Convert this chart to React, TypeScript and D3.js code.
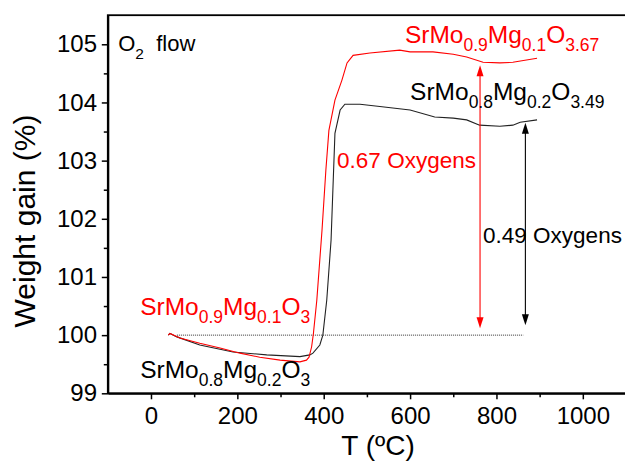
import React, { useEffect, useRef } from 'react';
import * as d3 from 'd3';

// TGA curves: temperature (ºC) vs weight gain (%)
const mg02Temp = [40, 44, 60, 113, 190, 268, 345, 368, 375, 391, 398, 407, 417, 426, 438, 449, 484, 530, 600, 657, 700, 731, 761, 808, 838, 855, 894];
const mg02Weight = [100.0, 100.03, 99.97, 99.83, 99.71, 99.66, 99.63, 99.66, 99.69, 99.83, 100.0, 100.6, 101.63, 103.47, 103.87, 103.97, 103.97, 103.93, 103.87, 103.75, 103.73, 103.7, 103.61, 103.59, 103.61, 103.66, 103.7];

const mg01Temp = [40, 44, 67, 113, 160, 206, 252, 299, 345, 360, 366, 372, 376, 384, 396, 405, 412, 426, 442, 454, 468, 507, 576, 600, 653, 700, 731, 769, 808, 838, 894];
const mg01Weight = [100.0, 100.03, 99.95, 99.86, 99.78, 99.69, 99.62, 99.57, 99.54, 99.57, 99.62, 99.8, 100.02, 100.6, 101.8, 102.84, 103.52, 104.04, 104.38, 104.68, 104.81, 104.85, 104.9, 104.87, 104.87, 104.83, 104.78, 104.69, 104.68, 104.69, 104.76];

const xMajor = [0, 200, 400, 600, 800, 1000];
const xMinor = [100, 300, 500, 700, 900];
const yMajor = [99, 100, 101, 102, 103, 104, 105];
const yMinor = [99.5, 100.5, 101.5, 102.5, 103.5, 104.5];

// reference line and the two arrows
const baseLine = { from: 60, to: 862, weight: 100 };
const arrowTemp = [762, 867];
const arrowLow = [100.12, 100.17];
const arrowHigh = [104.64, 103.65];
const arrowColors = ['#ff0000', '#000000'];

// formula labels: [text, isSubscript]
type Part = [string, boolean];
const labels: { parts: Part[]; t: number; w: number; color: string }[] = [
  { parts: [['SrMo', false], ['0.9', true], ['Mg', false], ['0.1', true], ['O', false], ['3.67', true]], t: 588, w: 105.03, color: '#ff0000' },
  { parts: [['SrMo', false], ['0.8', true], ['Mg', false], ['0.2', true], ['O', false], ['3.49', true]], t: 600, w: 104.04, color: '#000000' },
  { parts: [['SrMo', false], ['0.9', true], ['Mg', false], ['0.1', true], ['O', false], ['3', true]], t: -25, w: 100.34, color: '#ff0000' },
  { parts: [['SrMo', false], ['0.8', true], ['Mg', false], ['0.2', true], ['O', false], ['3', true]], t: -25, w: 99.26, color: '#000000' },
];

const FONT = "Arial, 'Liberation Sans', sans-serif";

const App: React.FC = () => {
  const svgRef = useRef<SVGSVGElement>(null);

  useEffect(() => {
    if (!svgRef.current) return;
    const svg = d3.select(svgRef.current);
    svg.selectAll('*').remove();

    const x = d3.scaleLinear().domain([-100, 1100]).range([107.8, 626]);
    const y = d3.scaleLinear().domain([99, 105.5]).range([393.3, 15.2]);

    const g = svg.append('g');

    // frame (top/right)
    g.append('rect')
      .attr('x', x(-100)).attr('y', y(105.5))
      .attr('width', x(1100) - x(-100)).attr('height', y(99) - y(105.5))
      .attr('fill', 'none').attr('stroke', '#000').attr('stroke-width', 1.8);

    // minor ticks
    g.append('g')
      .attr('transform', `translate(0,${y(99)})`)
      .call(d3.axisBottom(x).tickValues(xMinor).tickSize(4).tickFormat(() => ''))
      .call(s => s.select('.domain').remove())
      .selectAll('line').attr('stroke-width', 1.5);
    g.append('g')
      .attr('transform', `translate(${x(-100)},0)`)
      .call(d3.axisLeft(y).tickValues(yMinor).tickSize(4).tickFormat(() => ''))
      .call(s => s.select('.domain').remove())
      .selectAll('line').attr('stroke-width', 1.5);

    // major axes
    const xAxis = g.append('g')
      .attr('transform', `translate(0,${y(99)})`)
      .call(d3.axisBottom(x).tickValues(xMajor).tickSize(6).tickSizeOuter(0).tickPadding(7.5).tickFormat(d3.format('d')));
    const yAxis = g.append('g')
      .attr('transform', `translate(${x(-100)},0)`)
      .call(d3.axisLeft(y).tickValues(yMajor).tickSize(6).tickSizeOuter(0).tickPadding(4.8).tickFormat(d3.format('d')));
    [xAxis, yAxis].forEach(a => {
      a.attr('font-family', FONT).attr('font-size', 24);
      a.select('.domain').attr('stroke-width', 2);
      a.selectAll('.tick line').attr('stroke-width', 1.5);
      a.selectAll('.tick text').attr('fill', '#000');
    });

    // dotted baseline
    g.append('line')
      .attr('x1', x(baseLine.from)).attr('x2', x(baseLine.to))
      .attr('y1', y(baseLine.weight)).attr('y2', y(baseLine.weight))
      .attr('stroke', '#333').attr('stroke-width', 1).attr('stroke-dasharray', '1,1');

    const line = d3.line<[number, number]>().x(d => x(d[0])).y(d => y(d[1]));

    g.append('path')
      .datum(mg02Temp.map((t, i) => [t, mg02Weight[i]] as [number, number]))
      .attr('d', line).attr('fill', 'none').attr('stroke', '#222').attr('stroke-width', 1.1);
    g.append('path')
      .datum(mg01Temp.map((t, i) => [t, mg01Weight[i]] as [number, number]))
      .attr('d', line).attr('fill', 'none').attr('stroke', '#ff0000').attr('stroke-width', 1.1);

    // double arrows
    arrowTemp.forEach((t, i) => {
      const ax = x(t);
      const lo = y(arrowLow[i]);
      const hi = y(arrowHigh[i]);
      const c = arrowColors[i];
      g.append('line').attr('x1', ax).attr('x2', ax).attr('y1', hi + 6).attr('y2', lo - 6)
        .attr('stroke', c).attr('stroke-width', 1.1);
      g.append('path').attr('d', `M${ax},${hi} L${ax - 3.5},${hi + 11} L${ax + 3.5},${hi + 11} Z`).attr('fill', c);
      g.append('path').attr('d', `M${ax},${lo} L${ax - 3.5},${lo - 11} L${ax + 3.5},${lo - 11} Z`).attr('fill', c);
    });

    // formula labels
    labels.forEach(l => {
      const txt = g.append('text')
        .attr('x', x(l.t)).attr('y', y(l.w))
        .attr('font-family', FONT).attr('fill', l.color);
      let sub = false;
      l.parts.forEach(([s, isSub]) => {
        const dy = isSub === sub ? 0 : isSub ? 8 : -8;
        txt.append('tspan')
          .attr('dy', dy)
          .attr('font-size', isSub ? 17.5 : 24.5)
          .text(s);
        sub = isSub;
      });
    });

    g.append('text')
      .attr('x', x(431)).attr('y', y(102.87))
      .attr('font-family', FONT).attr('font-size', 22.5).attr('fill', '#ff0000')
      .text('0.67 Oxygens');
    g.append('text')
      .attr('x', x(769)).attr('y', y(101.58))
      .attr('font-family', FONT).attr('font-size', 22.5).attr('fill', '#000')
      .text('0.49 Oxygens');

    const o2 = g.append('text')
      .attr('x', x(-76)).attr('y', y(104.88))
      .attr('font-family', FONT).attr('font-size', 22).attr('fill', '#000');
    o2.append('tspan').text('O');
    o2.append('tspan').attr('dy', 8).attr('font-size', 15.5).text('2');
    o2.append('tspan').attr('dy', -8).attr('x', x(-76) + 38).text('flow');

    // axis titles
    g.append('text')
      .attr('x', 378).attr('y', 455)
      .attr('text-anchor', 'middle')
      .attr('font-family', FONT).attr('font-size', 28).attr('fill', '#000')
      .text('T (ºC)');
    g.append('text')
      .attr('transform', 'translate(35,221) rotate(-90)')
      .attr('text-anchor', 'middle')
      .attr('font-family', FONT).attr('font-size', 30).attr('fill', '#000')
      .text('Weight gain (%)');
  }, []);

  return (
    <svg
      ref={svgRef}
      width={625}
      height={464}
      style={{ position: 'absolute', left: 0, top: 0, background: '#fff' }}
    />
  );
};

export default App;
